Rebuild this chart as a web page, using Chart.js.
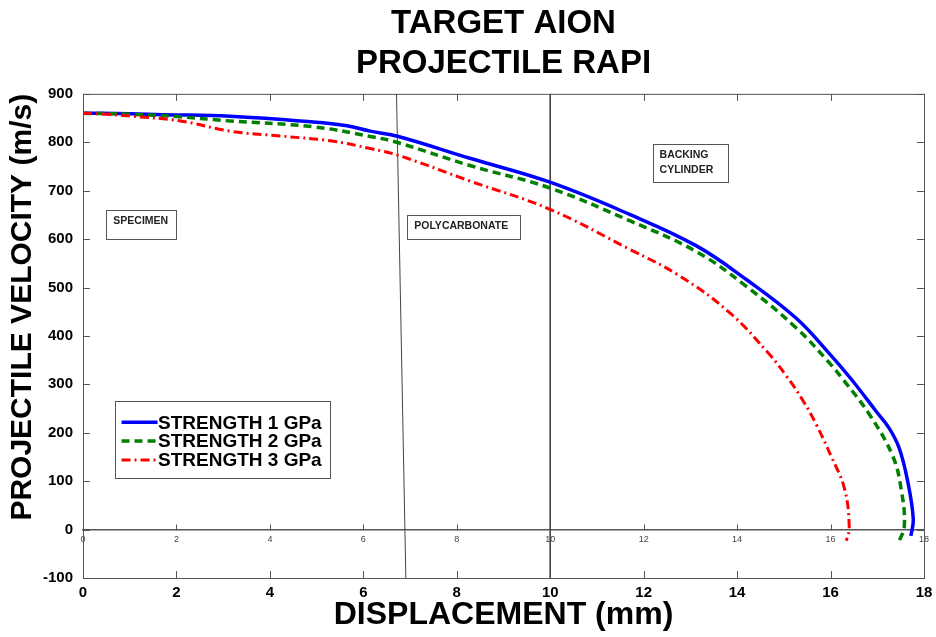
<!DOCTYPE html>
<html>
<head>
<meta charset="utf-8">
<title>Target AION - Projectile RAPI</title>
<script src="https://cdn.jsdelivr.net/npm/chart.js@4.4.1/dist/chart.umd.min.js"></script>
<style>
    html, body { margin: 0; padding: 0; background: #fff; }
    #wrap { width: 936px; height: 637px; }
</style>
</head>
<body>
<div id="wrap"><canvas id="chartCanvas" width="936" height="637"></canvas></div>
<script>
// Chart texts
const titleLines = ["TARGET AION", "PROJECTILE RAPI"];
const xTitle = "DISPLACEMENT (mm)";
const yTitle = "PROJECTILE VELOCITY (m/s)";
const seriesNames = ["STRENGTH 1 GPa", "STRENGTH 2 GPa", "STRENGTH 3 GPa"];
const layerNames = [["SPECIMEN"], ["POLYCARBONATE"], ["BACKING", "CYLINDER"]];

// Axis ranges (mm, m/s)
const xMin = 0, xMax = 18, xStep = 2;
const yMin = -100, yMax = 900, yStep = 100;

// Strength 1 GPa (displacement mm / velocity m/s)
const s1X = [0, 1.0, 1.7, 3.15, 4.93, 5.65, 6.15, 6.75, 8.28, 9.98, 11.70, 13.13, 14.19, 15.26, 15.97, 16.44, 16.97, 17.25, 17.47, 17.65, 17.77, 17.72];
const s1V = [860, 859, 857, 854, 842, 834, 823, 812, 767, 718, 651, 586, 517, 437, 364, 311, 245, 210, 168, 100, 22, -13];

// Strength 2 GPa
const s2X = [0, 1.0, 2.0, 3.15, 4.93, 6.15, 6.75, 8.28, 9.98, 11.70, 13.13, 14.19, 15.26, 15.97, 16.26, 16.83, 17.33, 17.51, 17.58, 17.46];
const s2V = [860, 858, 853, 844, 832, 812, 799, 752, 706, 638, 574, 503, 417, 345, 311, 238, 152, 84, 8, -26];

// Strength 3 GPa
const s3X = [0, 0.5, 1.02, 2.09, 3.15, 4.22, 5.29, 6.15, 6.75, 8.28, 9.98, 11.70, 12.77, 13.84, 14.69, 15.05, 15.40, 15.69, 16.01, 16.30, 16.40, 16.34];
const s3V = [860, 858, 854, 844, 823, 813, 803, 787, 773, 720, 662, 579, 524, 448, 362, 318, 268, 218, 152, 84, 5, -23];

// Layer boundaries (mm at top and bottom of the frame)
const boundary1X = [6.71, 6.91];
const boundary2X = [10, 10];

const FONT = "'Liberation Sans', Arial, sans-serif";
const colors = ["#0000ff", "#008000", "#ff0000"];
const dashes = [[], [8, 5], [9, 4, 2, 4]];

function pairs(xs, ys) {
    return xs.map((x, i) => ({ x: x, y: ys[i] }));
}

// MATLAB-like frame with inward ticks, plus the inner axis ticks at v = 0
const frameTicks = {
    id: "frameTicks",
    beforeDatasetsDraw(chart) {
        const { ctx, chartArea: a, scales } = chart;
        const tl = 7;
        ctx.save();
        ctx.strokeStyle = "#555";
        ctx.lineWidth = 1;
        ctx.strokeRect(a.left + 0.5, a.top + 0.5, a.right - a.left, a.bottom - a.top);
        ctx.beginPath();
        scales.x.ticks.forEach(t => {
            const px = Math.round(scales.x.getPixelForValue(t.value)) + 0.5;
            ctx.moveTo(px, a.bottom); ctx.lineTo(px, a.bottom - tl);
            ctx.moveTo(px, a.top); ctx.lineTo(px, a.top + tl);
        });
        scales.y.ticks.forEach(t => {
            const py = Math.round(scales.y.getPixelForValue(t.value)) + 0.5;
            ctx.moveTo(a.left, py); ctx.lineTo(a.left + tl, py);
            ctx.moveTo(a.right, py); ctx.lineTo(a.right - tl, py);
        });
        const y0 = Math.round(scales.y.getPixelForValue(0)) + 0.5;
        scales.x2.ticks.forEach(t => {
            const px = Math.round(scales.x2.getPixelForValue(t.value)) + 0.5;
            ctx.moveTo(px, y0); ctx.lineTo(px, y0 - 6);
        });
        ctx.stroke();
        ctx.restore();
    }
};

// Layer label boxes and legend box
const boxes = {
    id: "boxes",
    afterDatasetsDraw(chart, args, opts) {
        const { ctx, scales } = chart;
        ctx.save();
        opts.labels.forEach((b, i) => {
            const left = scales.x.getPixelForValue(b.x);
            const top = scales.y.getPixelForValue(b.y);
            ctx.fillStyle = "#fff";
            ctx.fillRect(left, top, b.w, b.h);
            ctx.strokeStyle = "#555";
            ctx.lineWidth = 1;
            ctx.strokeRect(Math.round(left) + 0.5, Math.round(top) + 0.5, b.w, b.h);
            ctx.fillStyle = "#222";
            ctx.font = "bold 10.5px " + FONT;
            ctx.textBaseline = "middle";
            ctx.textAlign = "left";
            layerNames[i].forEach((line, j) => {
                ctx.fillText(line, left + 7, top + 11 + j * 14.5);
            });
        });

        const lg = opts.legend;
        const left = scales.x.getPixelForValue(lg.x);
        const top = scales.y.getPixelForValue(lg.y);
        ctx.fillStyle = "#fff";
        ctx.fillRect(left, top, lg.w, lg.h);
        ctx.strokeStyle = "#555";
        ctx.lineWidth = 1;
        ctx.strokeRect(Math.round(left) + 0.5, Math.round(top) + 0.5, lg.w, lg.h);
        chart.data.datasets.slice(0, 3).forEach((ds, i) => {
            const y = top + 21 + i * 18.8;
            ctx.beginPath();
            ctx.strokeStyle = ds.borderColor;
            ctx.lineWidth = ds.borderWidth;
            ctx.setLineDash(ds.borderDash || []);
            ctx.moveTo(left + 7, y);
            ctx.lineTo(left + 43, y);
            ctx.stroke();
            ctx.setLineDash([]);
            ctx.fillStyle = "#000";
            ctx.font = "bold 19px " + FONT;
            ctx.textBaseline = "middle";
            ctx.textAlign = "left";
            ctx.fillText(ds.label, left + 43.5, y + 1);
        });
        ctx.restore();
    }
};

const curveSets = [pairs(s1X, s1V), pairs(s2X, s2V), pairs(s3X, s3V)].map((d, i) => ({
    label: seriesNames[i],
    data: d,
    borderColor: colors[i],
    borderWidth: i === 2 ? 3 : 3.5,
    borderDash: dashes[i],
    pointRadius: 0,
    tension: 0.4,
    showLine: true,
    fill: false,
    order: 3 - i
}));

const boundarySets = [boundary1X, boundary2X].map(bx => ({
    label: "",
    data: [{ x: bx[0], y: yMax }, { x: bx[1], y: yMin }],
    borderColor: "#444",
    borderWidth: 1,
    pointRadius: 0,
    showLine: true,
    order: 10
}));

const ctx = document.getElementById("chartCanvas");

new Chart(ctx, {
    type: "scatter",
    data: { datasets: curveSets.concat(boundarySets) },
    options: {
        responsive: false,
        animation: false,
        devicePixelRatio: 1,
        layout: { padding: { left: 0, right: 12, top: 0, bottom: 0 } },
        plugins: {
            legend: { display: false },
            tooltip: { enabled: false },
            title: {
                display: true,
                text: titleLines,
                fullSize: false,
                color: "#000",
                font: { family: FONT, size: 33, weight: "bold", lineHeight: 1.21 },
                padding: { top: 4, bottom: 10 }
            },
            boxes: {
                labels: [
                    { x: 0.50, y: 660, w: 70, h: 29 },
                    { x: 6.94, y: 649, w: 113, h: 24 },
                    { x: 12.19, y: 796, w: 75, h: 38 }
                ],
                legend: { x: 0.675, y: 265, w: 215, h: 77 }
            }
        },
        scales: {
            x: {
                type: "linear",
                position: "bottom",
                min: xMin, max: xMax,
                afterFit: s => { s.height = 59; s.paddingLeft = 0; s.paddingRight = 0; },
                ticks: {
                    stepSize: xStep, autoSkip: false, maxRotation: 0, padding: 6,
                    color: "#000", font: { family: FONT, size: 15, weight: "bold" }
                },
                grid: { display: false, drawTicks: false },
                border: { display: false },
                title: {
                    display: true, text: xTitle, color: "#000",
                    font: { family: FONT, size: 32, weight: "bold", lineHeight: 1.1 },
                    padding: { top: 0, bottom: 4 }
                }
            },
            x2: {
                type: "linear",
                axis: "x",
                position: { y: 0 },
                min: xMin, max: xMax,
                afterFit: s => { s.paddingLeft = 0; s.paddingRight = 0; },
                ticks: {
                    stepSize: xStep, autoSkip: false, maxRotation: 0, padding: 5,
                    color: "#444", font: { family: FONT, size: 9 }
                },
                grid: { display: false, drawTicks: false },
                border: { display: true, color: "#555", width: 1.5 }
            },
            y: {
                type: "linear",
                position: "left",
                min: yMin, max: yMax,
                afterFit: s => { s.width = 83; },
                ticks: {
                    stepSize: yStep, padding: 10,
                    color: "#000", font: { family: FONT, size: 15, weight: "bold" }
                },
                grid: { display: false, drawTicks: false },
                border: { display: false },
                title: {
                    display: true, text: yTitle, color: "#000", align: "end",
                    font: { family: FONT, size: 30, weight: "bold", lineHeight: 1.2 },
                    padding: { top: 5, bottom: 0 }
                }
            }
        }
    },
    plugins: [frameTicks, boxes]
});
</script>
</body>
</html>
